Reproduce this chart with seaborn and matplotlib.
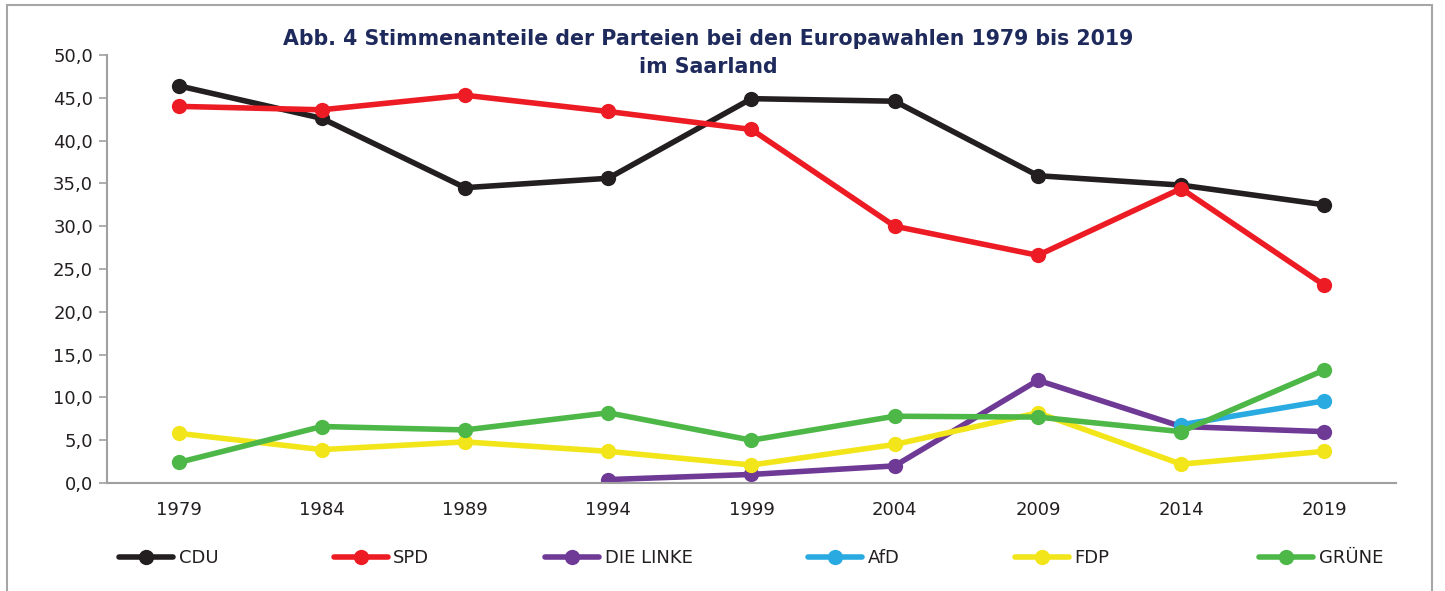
import numpy as np
import pandas as pd
import matplotlib
matplotlib.use("Agg")
import matplotlib.pyplot as plt
from matplotlib.patches import Rectangle
from matplotlib.ticker import FuncFormatter, FixedLocator
import seaborn as sns

years = ["1979", "1984", "1989", "1994", "1999", "2004", "2009", "2014", "2019"]
parties = ["CDU", "SPD", "DIE LINKE", "AfD", "FDP", "GRÜNE"]
cdu = [46.4, 42.6, 34.5, 35.6, 44.9, 44.6, 35.9, 34.8, 32.5]
spd = [44.0, 43.6, 45.3, 43.4, 41.3, 30.0, 26.6, 34.4, 23.1]
linke = [np.nan, np.nan, np.nan, 0.4, 1.0, 2.0, 12.0, 6.6, 6.0]
afd = [np.nan, np.nan, np.nan, np.nan, np.nan, np.nan, np.nan, 6.8, 9.6]
fdp = [5.8, 3.9, 4.8, 3.7, 2.1, 4.5, 8.2, 2.2, 3.7]
gruene = [2.4, 6.6, 6.2, 8.2, 5.0, 7.8, 7.7, 6.0, 13.2]
colors = ["#231F20", "#ED1C24", "#6F3996", "#29ABE2", "#F2E51A", "#4DB848"]
series = [cdu, spd, linke, afd, fdp, gruene]

sns.set_style("white")
plt.rcParams["font.family"] = ["DejaVu Sans"]

fig = plt.figure(figsize=(14.45, 5.91), dpi=100)
ax = fig.add_axes([107/1445, 1-483/591, (1396-107)/1445, (483-55)/591])

for name, vals, col in zip(parties, series, colors):
    df = pd.DataFrame({"x": np.arange(len(years)), "y": vals}).dropna()
    sns.lineplot(data=df, x="x", y="y", ax=ax, color=col, linewidth=4.0,
                 marker="o", markersize=11, markeredgewidth=0, label=name,
                 sort=False, errorbar=None)

ax.set_xlim(-0.5, len(years) - 0.5)
ax.set_ylim(0, 50)
ax.set_yticks(np.arange(0, 50.1, 5))
ax.yaxis.set_major_formatter(FuncFormatter(lambda v, p: f"{v:.1f}".replace(".", ",")))
ax.set_xticks(np.arange(len(years)))
ax.set_xticklabels(years)
ax.xaxis.set_minor_locator(FixedLocator(np.arange(-0.5, len(years), 1.0)))
ax.tick_params(axis="x", which="major", length=0, pad=13, labelsize=13, labelcolor="#231F20")
ax.tick_params(axis="x", which="minor", length=6, width=1.2, color="#A0A0A0", direction="out")
ax.tick_params(axis="y", which="major", length=6, width=1.2, color="#A0A0A0", direction="out",
               left=True, labelsize=13, labelcolor="#231F20", pad=4)
ax.set_xlabel("")
ax.set_ylabel("")
for s in ["top", "right"]:
    ax.spines[s].set_visible(False)
for s in ["left", "bottom"]:
    ax.spines[s].set_color("#A0A0A0")
    ax.spines[s].set_linewidth(1.5)
ax.grid(False)

handles, labels = ax.get_legend_handles_labels()
leg_kw = dict(frameon=False, loc="center left", bbox_transform=fig.transFigure,
              fontsize=13, handlelength=3.0, handletextpad=0.3, columnspacing=6.4,
              borderaxespad=0, borderpad=0)
leg1 = ax.legend(handles[:5], labels[:5], ncol=5, bbox_to_anchor=(119/1445, 1-558/591), **leg_kw)
ax.add_artist(leg1)
leg2 = ax.legend(handles[5:], labels[5:], ncol=1, bbox_to_anchor=(1259/1445, 1-558/591), **leg_kw)
for lg in (leg1, leg2):
    for t in lg.get_texts():
        t.set_color("#231F20")

fig.text(708/1445, 1-53/591, "Abb. 4 Stimmenanteile der Parteien bei den Europawahlen 1979 bis 2019\nim Saarland",
         ha="center", va="center", fontsize=14.8, fontweight="bold", color="#1F2A5C",
         linespacing=1.45)

fig.patches.append(Rectangle((7/1445, -0.1), 1425/1445, 1.1 - 5/591, transform=fig.transFigure,
                             fill=False, edgecolor="#A6A6A6", linewidth=1.5))

fig.savefig("out.png", dpi=100)
